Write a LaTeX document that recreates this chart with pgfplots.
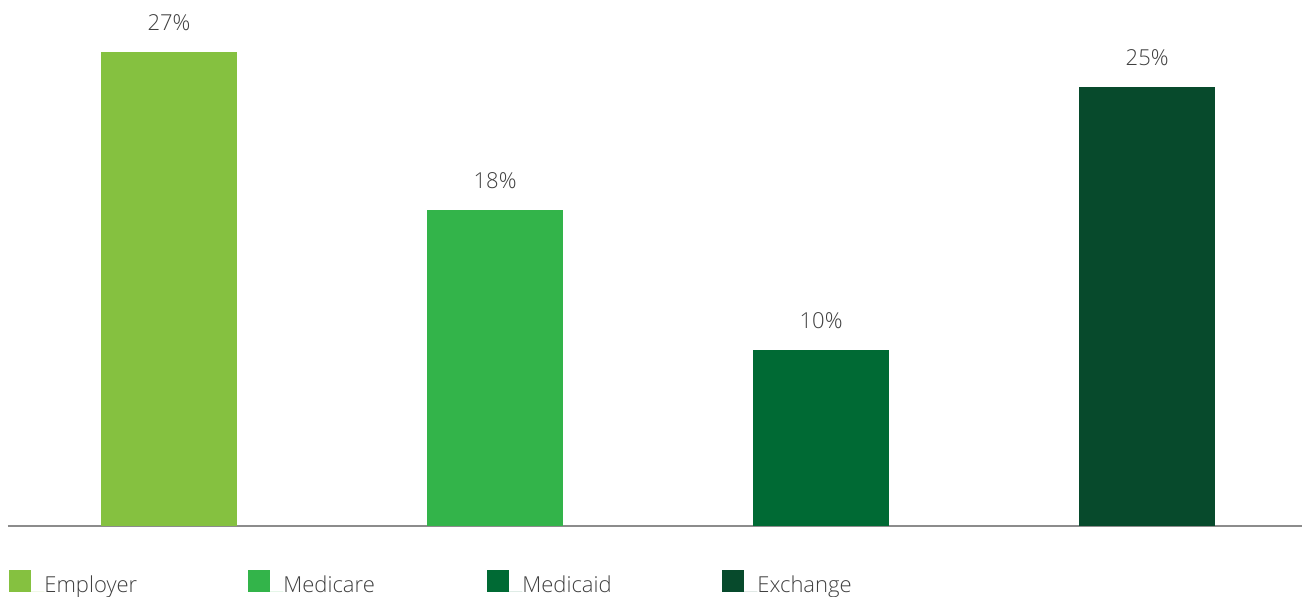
\documentclass[border=0pt]{standalone}
\usepackage{fontspec}
\setmainfont{Open Sans Light}
\usepackage{pgfplots}
\pgfplotsset{compat=1.18}
\definecolor{cEmp}{RGB}{133,193,64}
\definecolor{cMcr}{RGB}{51,180,74}
\definecolor{cMcd}{RGB}{0,106,52}
\definecolor{cExc}{RGB}{7,74,44}
\definecolor{labelgray}{RGB}{64,64,64}
\begin{document}
\begin{tikzpicture}
\begin{axis}[name=ax, scale only axis, width=647pt, height=263pt,
  xmin=-0.494, xmax=3.475, ymin=0, ymax=29.95,
  axis x line=bottom, axis y line=none,
  x axis line style={-, draw=black!45, line width=1pt},
  xtick=\empty, ytick=\empty,
  /pgf/number format/assume math mode=true,
  ybar, bar width=68pt, bar shift=0pt,
  nodes near coords={\pgfmathprintnumber{\pgfplotspointmeta}\%},
  every node near coord/.append style={font=\fontsize{11}{13}\selectfont, text=labelgray, inner sep=0pt, anchor=south, yshift=10.5pt},
  legend columns=4,
  legend style={at={(0,0)}, anchor=south west, xshift=0.5pt, yshift=-35.1pt, draw=none, fill=none, inner sep=0pt, column sep=0pt,
    nodes={inner sep=0pt, font=\fontsize{11}{13}\selectfont, text=labelgray}},
  legend image code/.code={\fill[#1] (0pt,-3pt) rectangle (11pt,8pt); \path (0pt,-3pt) -- (17.5pt,-3pt);},
  clip=false]
\addplot[fill=cEmp, draw=none] coordinates {(0,27)};
\addlegendentry{\makebox[102pt][l]{Employer}}
\addplot[fill=cMcr, draw=none] coordinates {(1,18)};
\addlegendentry{\makebox[102pt][l]{Medicare}}
\addplot[fill=cMcd, draw=none] coordinates {(2,10)};
\addlegendentry{\makebox[100pt][l]{Medicaid}}
\addplot[fill=cExc, draw=none] coordinates {(3,25)};
\addlegendentry{Exchange}
\end{axis}
\pgfresetboundingbox
\path ([xshift=-4pt,yshift=-35.5pt]ax.south west) rectangle (ax.north east);
\end{tikzpicture}
\end{document}
